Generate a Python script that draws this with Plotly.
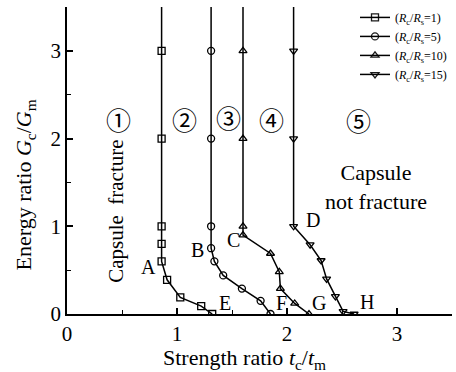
import plotly.graph_objects as go

# Data
s1_x = [0.86, 0.86, 0.86, 0.86, 0.86, 0.86, 0.91, 1.03, 1.22, 1.32]
s1_y = [3.5, 3, 2, 1, 0.8, 0.6, 0.39, 0.19, 0.09, 0]
s2_x = [1.31, 1.31, 1.31, 1.31, 1.31, 1.34, 1.42, 1.59, 1.76, 1.85]
s2_y = [3.5, 3, 2, 1, 0.75, 0.6, 0.44, 0.29, 0.15, 0]
s3_x = [1.60, 1.60, 1.60, 1.60, 1.60, 1.85, 1.93, 1.94, 2.07, 2.20]
s3_y = [3.5, 3, 2, 1, 0.9, 0.69, 0.48, 0.29, 0.12, 0]
s4_x = [2.06, 2.06, 2.06, 2.06, 2.21, 2.31, 2.36, 2.44, 2.51, 2.61]
s4_y = [3.5, 3, 2, 1, 0.79, 0.61, 0.40, 0.20, 0.03, 0]
ratios = ["1", "5", "10", "15"]
symbols = ["square-open", "circle-open", "triangle-up-open", "triangle-down-open"]

point_labels = ["A", "B", "C", "D", "E", "F", "G", "H"]
point_x = [0.74, 1.19, 1.51, 2.24, 1.44, 1.95, 2.29, 2.73]
point_y = [0.54, 0.73, 0.84, 1.07, 0.12, 0.12, 0.12, 0.14]

region_labels = ["①", "②", "③", "④", "⑤"]
region_x = [0.47, 1.07, 1.47, 1.86, 2.65]
region_y = [2.2, 2.19, 2.22, 2.19, 2.18]

x_title = "Strength ratio <i>t</i><sub>c</sub>/<i>t</i><sub>m</sub>"
y_title = "Energy ratio <i>G</i><sub>c</sub>/<i>G</i><sub>m</sub>"

SERIF = "Liberation Serif, Times New Roman, serif"

fig = go.Figure()
for xs, ys, r, sym in zip([s1_x, s2_x, s3_x, s4_x], [s1_y, s2_y, s3_y, s4_y], ratios, symbols):
    fig.add_trace(go.Scatter(
        x=xs, y=ys, mode="lines+markers",
        name=f"(<i>R</i><sub>c</sub>/<i>R</i><sub>s</sub>={r})",
        line=dict(color="black", width=1.5),
        marker=dict(symbol=sym, size=7, color="black",
                    opacity=[0] + [1] * (len(xs) - 1),
                    line=dict(color="black", width=1.3)),
        cliponaxis=True,
    ))

for t, x, y in zip(point_labels, point_x, point_y):
    fig.add_annotation(x=x, y=y, text=t, showarrow=False,
                       font=dict(family=SERIF, size=20, color="black"))
for t, x, y in zip(region_labels, region_x, region_y):
    fig.add_annotation(x=x, y=y, text=t, showarrow=False,
                       font=dict(family="DejaVu Serif, Noto Sans CJK SC", size=25, color="black"))

fig.add_annotation(x=0.45, y=1.17, text="Capsule  fracture", textangle=-90, showarrow=False,
                   font=dict(family=SERIF, size=21, color="black"))
fig.add_annotation(x=2.81, y=1.45, text="Capsule<br>not fracture", showarrow=False,
                   font=dict(family=SERIF, size=22, color="black"))

# axis titles
fig.add_annotation(xref="paper", yref="paper", x=0.46, y=-0.145, text=x_title, showarrow=False,
                   xanchor="center", yanchor="middle",
                   font=dict(family=SERIF, size=22, color="black"))
fig.add_annotation(xref="paper", yref="paper", x=-0.108, y=0.42, text=y_title, showarrow=False,
                   textangle=-90, xanchor="center", yanchor="middle",
                   font=dict(family=SERIF, size=22, color="black"))

axis_common = dict(
    range=[0, 3.5], showgrid=False, zeroline=False, showline=True,
    linecolor="black", linewidth=1.5, ticks="inside", ticklen=6, tickwidth=1.5,
    tickcolor="black", tickvals=[0, 1, 2, 3], ticktext=["0", "1", "2", "3"],
    tickfont=dict(family=SERIF, size=21, color="black"),
    minor=dict(ticks="inside", tickvals=[0.5, 1.5, 2.5], ticklen=4, tickwidth=1.2, tickcolor="black"),
)

fig.update_layout(
    width=456, height=372,
    margin=dict(l=67, r=4, t=6, b=58),
    paper_bgcolor="white", plot_bgcolor="white",
    xaxis=axis_common,
    yaxis=axis_common,
    legend=dict(x=1.0, y=1.01, xanchor="right", yanchor="top", bgcolor="rgba(0,0,0,0)",
                font=dict(family=SERIF, size=12, color="black"),
                itemwidth=30, tracegroupgap=0),
    showlegend=True,
)

fig.write_html("out.html")
